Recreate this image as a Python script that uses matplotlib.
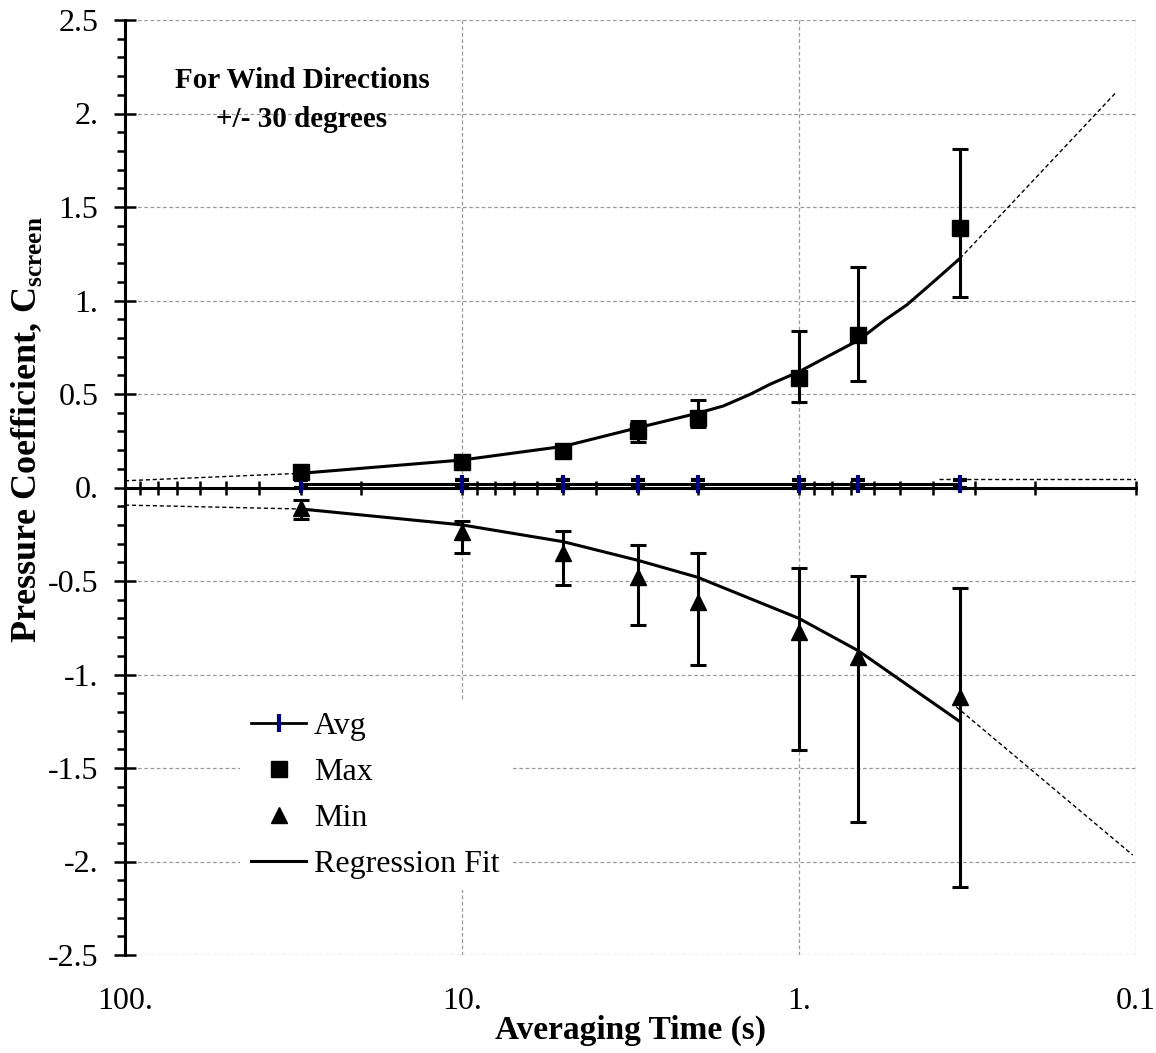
import matplotlib
matplotlib.use("Agg")
import matplotlib.pyplot as plt
import matplotlib.ticker as mticker
import matplotlib.transforms as mtransforms
from matplotlib.lines import Line2D
import numpy as np

plt.rcParams['font.family'] = ['Liberation Serif', 'DejaVu Serif']
plt.rcParams['mathtext.fontset'] = 'custom'
plt.rcParams['mathtext.rm'] = 'Liberation Serif'
plt.rcParams['mathtext.bf'] = 'Liberation Serif:bold'

# ---------------- data ----------------
t = [30, 10, 5, 3, 2, 1, 0.667, 0.333]

avg_v = [0.02, 0.02, 0.02, 0.02, 0.02, 0.02, 0.02, 0.02]
avg_lo = [0.0, 0.0, 0.0, 0.0, 0.0, 0.0, 0.0, 0.0]
avg_hi = [0.04, 0.04, 0.04, 0.04, 0.04, 0.04, 0.04, 0.04]

max_v = [0.085, 0.135, 0.195, 0.30, 0.373, 0.585, 0.815, 1.386]
max_lo = [0.07, 0.125, 0.185, 0.242, 0.325, 0.457, 0.571, 1.017]
max_hi = [0.10, 0.145, 0.205, 0.357, 0.468, 0.838, 1.18, 1.81]

min_v = [-0.11, -0.236, -0.35, -0.48, -0.61, -0.775, -0.905, -1.119]
min_hi = [-0.067, -0.18, -0.23, -0.31, -0.35, -0.43, -0.473, -0.539]
min_lo = [-0.168, -0.35, -0.52, -0.735, -0.95, -1.405, -1.79, -2.138]

# regression fits (solid part) and their dashed extrapolations
fit_max_t = [30, 10, 5, 3, 2, 1.677, 1.397, 1.219, 1.0, 0.80, 0.664, 0.556, 0.479, 0.399, 0.333]
fit_max_v = [0.076, 0.147, 0.22, 0.32, 0.397, 0.436, 0.498, 0.552, 0.619, 0.712, 0.789,
             0.896, 0.976, 1.10, 1.225]
ext_max_left_t = [100, 30]
ext_max_left_v = [0.036, 0.076]
ext_max_right_t = [0.333, 0.115]
ext_max_right_v = [1.225, 2.11]

fit_min_t = [30, 10, 5, 3, 2, 1, 0.667, 0.333]
fit_min_v = [-0.115, -0.20, -0.29, -0.39, -0.48, -0.70, -0.873, -1.252]
ext_min_left_t = [100, 30]
ext_min_left_v = [-0.094, -0.115]
ext_min_right_t = [0.342, 0.1023]
ext_min_right_v = [-1.172, -1.965]

fit_avg_t = [30, 0.333]
fit_avg_v = [0.018, 0.018]
ext_avg_right_t = [0.383, 0.1]
ext_avg_right_v = [0.044, 0.044]

xticks = [100, 10, 1, 0.1]
xticklabels = ['100.', '10.', '1.', '0.1']
yticks = [2.5, 2.0, 1.5, 1.0, 0.5, 0.0, -0.5, -1.0, -1.5, -2.0, -2.5]
yticklabels = ['2.5', '2.', '1.5', '1.', '0.5', '0.', '-0.5', '-1.', '-1.5', '-2.', '-2.5']

# ---------------- figure ----------------
fig = plt.figure(figsize=(11.56, 10.53), dpi=100)
ax = fig.add_axes([125/1156, 1-955/1053, (1136-125)/1156, (955-20)/1053])

ax.set_xscale('log')
ax.set_xlim(100, 0.1)
ax.set_ylim(-2.5, 2.5)

# grid
ax.set_xticks(xticks)
ax.set_yticks(yticks, labels=yticklabels)
ax.yaxis.set_minor_locator(mticker.MultipleLocator(0.1))
ax.xaxis.set_minor_locator(mticker.LogLocator(base=10, subs=np.arange(2, 10)))
ax.xaxis.set_minor_formatter(mticker.NullFormatter())
ax.grid(True, which='major', color='#9a9a9a', linestyle=(0, (3, 2)), linewidth=0.9)
ax.set_axisbelow(True)

# spines
for s in ['top', 'right']:
    ax.spines[s].set_visible(False)
ax.spines['bottom'].set_position(('data', 0))
ax.spines['bottom'].set_linewidth(2.2)
ax.spines['left'].set_linewidth(2.2)
ax.spines['bottom'].set_zorder(1.5)

ax.tick_params(axis='x', which='both', direction='inout', length=10, width=1.8,
               labelbottom=False)
ax.tick_params(axis='y', which='major', direction='inout', length=16, width=1.8,
               labelsize=23, pad=11)
ax.tick_params(axis='y', which='minor', direction='out', length=6, width=1.8)

# x tick labels below the plot area
trans = mtransforms.blended_transform_factory(ax.transData, ax.transAxes)
for xv, lab in zip(xticks, xticklabels):
    ax.text(xv, -0.050, lab, transform=trans, ha='center', va='center', fontsize=23)

# fits
ax.plot(fit_max_t, fit_max_v, color='black', lw=2.2, zorder=3)
ax.plot(fit_min_t, fit_min_v, color='black', lw=2.2, zorder=3)
ax.plot(fit_avg_t, fit_avg_v, color='black', lw=2.2, zorder=3)
dash = (0, (3, 2))
ax.plot(ext_max_left_t, ext_max_left_v, color='black', lw=1.0, ls=dash, zorder=3)
ax.plot(ext_max_right_t, ext_max_right_v, color='black', lw=1.0, ls=dash, zorder=3)
ax.plot(ext_min_left_t, ext_min_left_v, color='black', lw=1.0, ls=dash, zorder=3)
ax.plot(ext_min_right_t, ext_min_right_v, color='black', lw=1.0, ls=dash, zorder=3)
ax.plot(ext_avg_right_t, ext_avg_right_v, color='black', lw=1.0, ls=dash, zorder=3)

# data with error bars
av = np.array(avg_v)
ax.errorbar(t, avg_v, yerr=[av - np.array(avg_lo), np.array(avg_hi) - av],
            fmt='|', color='navy', mec='navy', ms=13, mew=3,
            ecolor='black', elinewidth=1.8, capsize=5, capthick=1.8, zorder=4)
mv = np.array(max_v)
ax.errorbar(t, max_v, yerr=[mv - np.array(max_lo), np.array(max_hi) - mv],
            fmt='s', color='black', ms=11, ecolor='black', elinewidth=2.2,
            capsize=6, capthick=2.2, zorder=5)
nv = np.array(min_v)
ax.errorbar(t, min_v, yerr=[nv - np.array(min_lo), np.array(min_hi) - nv],
            fmt='^', color='black', ms=12, ecolor='black', elinewidth=2.2,
            capsize=6, capthick=2.2, zorder=5)

# annotation
ax.text(0.175, 0.914, 'For Wind Directions\n+/- 30 degrees', transform=ax.transAxes,
        ha='center', va='center', fontsize=21, fontweight='bold', linespacing=1.57)

# labels
ax.set_xlabel('Averaging Time (s)', fontsize=24, fontweight='bold', va='center')
ax.xaxis.set_label_coords(0.5, -0.081)
ax.set_ylabel(r'Pressure Coefficient, C$_{\mathbf{screen}}$', fontsize=26,
              fontweight='bold', va='center')
ax.yaxis.set_label_coords(-0.097, 0.562)

# legend
handles = [
    Line2D([], [], color='black', lw=2, marker='|', ms=13, mew=3, mec='navy'),
    Line2D([], [], ls='none', marker='s', color='black', ms=11),
    Line2D([], [], ls='none', marker='^', color='black', ms=11),
    Line2D([], [], color='black', lw=2.2),
]
labels = ['Avg', 'Max', 'Min', 'Regression Fit']
leg = ax.legend(handles, labels, loc='center left', bbox_to_anchor=(0.114, 0.171),
                borderaxespad=0, frameon=True, fontsize=23, handlelength=1.7,
                handletextpad=0.25, labelspacing=0.52, borderpad=0.35,
                fancybox=False)
leg.get_frame().set_edgecolor('none')
leg.get_frame().set_facecolor('white')
leg.get_frame().set_alpha(1.0)

fig.savefig('out.png', dpi=100)
